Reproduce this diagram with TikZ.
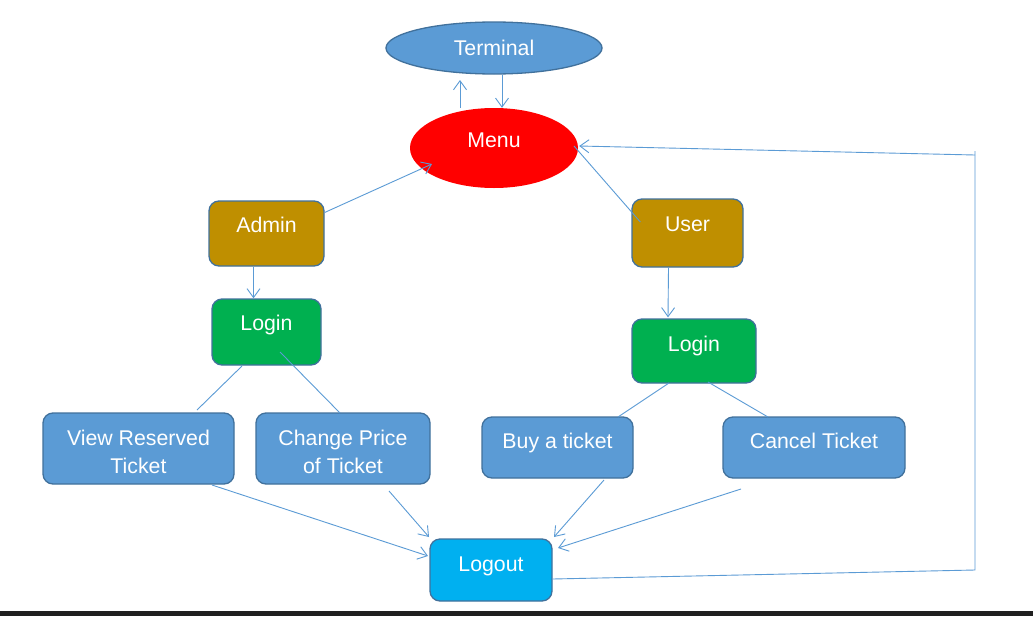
\documentclass[tikz,border=0pt]{standalone}
\usepackage{fontspec}
\setmainfont{Liberation Sans}
\usetikzlibrary{arrows.meta,shapes.geometric}
\definecolor{linkblue}{HTML}{5B9BD5}
\definecolor{edgeblue}{HTML}{41719C}
\definecolor{boxblue}{HTML}{5B9BD5}
\definecolor{gold}{HTML}{BF8F00}
\definecolor{green}{HTML}{00B050}
\definecolor{cyan}{HTML}{00B0F0}
\definecolor{menured}{HTML}{FF0000}
\definecolor{bar}{HTML}{202020}
\tikzset{
  box/.style={draw=edgeblue, line width=1.3pt, rounded corners=10pt, inner sep=0pt,
    text=white, font=\fontsize{21.3}{28}\selectfont},
  link/.style={draw=linkblue, line width=0.9pt},
  arr/.style={link, -{Straight Barb[length=9pt,width=13pt,line width=0.9pt]}}
}
\begin{document}
\begin{tikzpicture}[x=1pt,y=-1pt]
\useasboundingbox (0,0) rectangle (1033,616);
\fill[white] (0,0) rectangle (1033,616);
\fill[bar] (0,611) rectangle (1033,616);

% ellipses
\node[ellipse, fill=boxblue, draw=edgeblue, line width=1.3pt, inner sep=0pt,
  minimum width=216pt, minimum height=52pt, text=white,
  font=\fontsize{21.3}{28}\selectfont] (term) at (494,48) {Terminal};
\node[ellipse, fill=menured, inner sep=0pt, minimum width=168pt, minimum height=80pt,
  text=white, font=\fontsize{21.3}{28}\selectfont] (menu) at (494,148) {};
\node[text=white, font=\fontsize{21.3}{28}\selectfont, inner sep=0pt, anchor=base] (menutxt) at (494,147) {Menu};

% boxes
\node[box, fill=gold, minimum width=115pt, text height=31pt, text depth=34pt] (admin) at (266.5,233.5) {Admin};
\node[box, fill=gold, minimum width=111pt, text height=32pt, text depth=36pt] (user) at (687.5,233) {User};
\node[box, fill=green, minimum width=109pt, text height=31pt, text depth=35pt] (alogin) at (266.5,332) {Login};
\node[box, fill=green, minimum width=124pt, text height=32pt, text depth=32pt] (ulogin) at (694,351) {Login};
\node[box, fill=boxblue, minimum width=191pt, minimum height=71pt, align=center] (view) at (138.5,448.5) {\rule{0pt}{21.5pt}View Reserved\\Ticket};
\node[box, fill=boxblue, minimum width=174pt, minimum height=71pt, align=center] (price) at (343,448.5) {\rule{0pt}{21.5pt}Change Price\\of Ticket};
\node[box, fill=boxblue, minimum width=151pt, text height=31pt, text depth=30pt] (buy) at (557.5,447.5) {Buy a ticket};
\node[box, fill=boxblue, minimum width=182pt, text height=31pt, text depth=30pt] (cancel) at (814,447.5) {Cancel Ticket};
\node[box, fill=cyan, minimum width=122pt, text height=32pt, text depth=30pt] (logout) at (491,570) {Logout};

% connectors
\coordinate (c1) at (975,570);
\coordinate (c2) at (975,155);
\draw[arr] ([xshift=-34pt]menu.north) -- ([xshift=-34pt]term.south |- 0,80);
\draw[arr] ([xshift=8pt]term.south) -- ([xshift=8pt]menu.north);
\draw[arr] ([yshift=21pt]admin.east) -- (432,164);
\draw[link] ([xshift=9pt,yshift=11pt]user.west) -- (574,146);
\draw[link] (logout.east |- 0,579) -- (c1) -- (975,151);
\draw[arr] (c2) -- ([xshift=1pt,yshift=2pt]menu.east);
\draw[arr] ([xshift=-13pt]admin.south) -- ([xshift=-13pt]alogin.north);
\draw[link] (242,366) -- (197,410);
\draw[link] (280,352) -- (340,413);
\draw[arr] ([xshift=-19pt]user.south) -- ([xshift=-26pt,yshift=1pt]ulogin.north);
\draw[link] (669,383) -- (618,417);
\draw[link] (708,382) -- (768,417);
\draw[arr] (212,485) -- (428,556);
\draw[arr] (389,491) -- (429,537);
\draw[arr] (604,480) -- (554,537);
\draw[arr] (741,489) -- (558,548);
\end{tikzpicture}
\end{document}
